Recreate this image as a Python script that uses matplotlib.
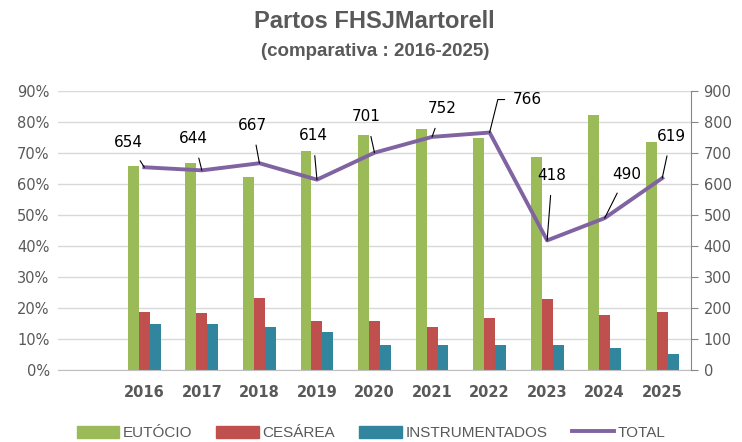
import matplotlib
matplotlib.use("Agg")
import matplotlib.pyplot as plt
import numpy as np
from matplotlib.patches import Patch
from matplotlib.lines import Line2D

years = ["", "2016", "2017", "2018", "2019", "2020", "2021", "2022", "2023", "2024", "2025"]
eutocio = [None, 65.8, 66.9, 62.4, 70.8, 75.7, 77.6, 74.7, 68.8, 82.3, 73.6]
cesarea = [None, 18.8, 18.3, 23.1, 15.9, 15.9, 13.8, 16.9, 22.8, 17.7, 18.8]
instrumentados = [None, 14.8, 14.8, 13.9, 12.4, 8.0, 8.0, 8.0, 8.0, 7.0, 5.1]
total = [None, 654, 644, 667, 614, 701, 752, 766, 418, 490, 619]

# label offsets in pixels (dx, dy) for each TOTAL label
label_off = [None, (-16, 25), (-8, 32), (-7, 38), (-4, 44), (-8, 36),
             (10, 28), (38, 33), (5, 65), (22, 44), (9, 42)]

GREEN = "#9BBB59"
RED = "#C0504D"
BLUE = "#31859C"
PURPLE = "#8064A2"
GRAY = "#595959"

fig = plt.figure(figsize=(7.42, 4.42), dpi=100)
ax = fig.add_axes([58 / 742, 1 - 370 / 442, (691 - 58) / 742, (370 - 91) / 442])
ax2 = ax.twinx()

x = np.arange(len(years))
w = 0.19
idx = [i for i in x if eutocio[i] is not None]
ax.bar([i - w for i in idx], [eutocio[i] for i in idx], w, color=GREEN, zorder=2)
ax.bar(idx, [cesarea[i] for i in idx], w, color=RED, zorder=2)
ax.bar([i + w for i in idx], [instrumentados[i] for i in idx], w, color=BLUE, zorder=2)

ax.set_xlim(-0.5, len(years) - 0.5)
ax.set_ylim(0, 90)
ax.set_yticks(range(0, 91, 10))
ax.set_yticklabels([f"{v}%" for v in range(0, 91, 10)])
ax.grid(axis="y", color="#d9d9d9", lw=1, zorder=0)
ax.set_axisbelow(True)
ax.set_xticks(x)
ax.set_xticklabels(years, fontweight="bold")
ax.tick_params(axis="x", length=0, pad=11, labelsize=10.5, labelcolor=GRAY)
ax.tick_params(axis="y", length=0, pad=6, labelsize=10.5, labelcolor=GRAY)
for s in ["top", "left", "right"]:
    ax.spines[s].set_visible(False)
ax.spines["bottom"].set_color("#bfbfbf")

ax2.plot(idx, [total[i] for i in idx], color=PURPLE, lw=2.8, zorder=3,
         solid_joinstyle="round")
ax2.set_ylim(0, 900)
ax2.set_yticks(range(0, 901, 100))
ax2.tick_params(axis="y", length=5, color="#868686", pad=4, labelsize=10.5, labelcolor=GRAY)
for s in ["top", "left", "bottom"]:
    ax2.spines[s].set_visible(False)
ax2.spines["right"].set_color("#868686")

for i in idx:
    dx, dy = label_off[i]
    if years[i] == "2022":
        conn = "angle,angleA=0,angleB=76,rad=0"
        shrink = 4
    else:
        conn = "arc3"
        shrink = 7
    ax2.annotate(str(total[i]), xy=(i, total[i]), xytext=(dx, dy),
                 textcoords="offset pixels", ha="center", va="center",
                 fontsize=11, color="black",
                 arrowprops=dict(arrowstyle="-", color="black", lw=0.8,
                                 shrinkA=shrink, shrinkB=0, connectionstyle=conn))

fig.text(0.505, 1 - 22 / 442, "Partos FHSJMartorell", ha="center", va="center",
         fontsize=17, fontweight="bold", color=GRAY, family="Liberation Sans")
fig.text(0.505, 1 - 52 / 442, "(comparativa : 2016-2025)", ha="center", va="center",
         fontsize=13.5, fontweight="bold", color=GRAY, family="Liberation Sans")

handles = [Patch(color=GREEN), Patch(color=RED), Patch(color=BLUE),
           Line2D([], [], color=PURPLE, lw=2.8)]
fig.legend(handles, ["EUTÓCIO", "CESÁREA", "INSTRUMENTADOS", "TOTAL"],
           loc="center", bbox_to_anchor=(0.5, 1 - 433 / 442), ncol=4, frameon=False,
           labelcolor=GRAY, handlelength=2.8, handleheight=0.8,
           handletextpad=0.2, columnspacing=1.6, prop={"family": "Liberation Sans", "size": 11})

fig.savefig("out.png", dpi=100)
